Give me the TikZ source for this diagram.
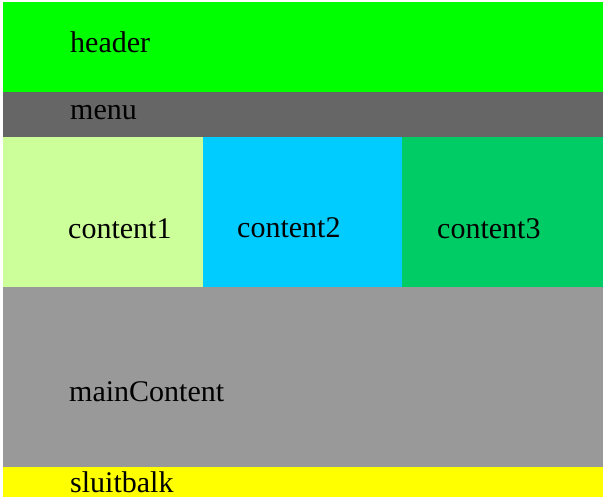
\documentclass[tikz,border=0pt]{standalone}
\usepackage{fontspec}
\setmainfont{Liberation Serif}
\definecolor{headergreen}{HTML}{00FF00}
\definecolor{menugrey}{HTML}{666666}
\definecolor{paleone}{HTML}{CCFF99}
\definecolor{skytwo}{HTML}{00CCFF}
\definecolor{greenthree}{HTML}{00CC66}
\definecolor{maingrey}{HTML}{999999}
\definecolor{footyellow}{HTML}{FFFF00}
\begin{document}
\begin{tikzpicture}[x=1pt, y=-1pt]
    \tikzstyle{block} = [anchor=north west, inner sep=0pt, outer sep=0pt, draw=none]
    \tikzstyle{caption} = [anchor=base west, inner sep=0pt, font=\fontsize{30}{36}\selectfont]
    \useasboundingbox (0, 0) rectangle (607, 501);
    % blocks
    \node[block, fill=headergreen, minimum width=600pt, minimum height=90pt] (header) at (3, 2) {};
    \node[block, fill=menugrey, minimum width=600pt, minimum height=45pt] (menu) at (3, 92) {};
    \node[block, fill=paleone, minimum width=200pt, minimum height=150pt] (content1) at (3, 137) {};
    \node[block, fill=skytwo, minimum width=199pt, minimum height=150pt] (content2) at (203, 137) {};
    \node[block, fill=greenthree, minimum width=201pt, minimum height=150pt] (content3) at (402, 137) {};
    \node[block, fill=maingrey, minimum width=600pt, minimum height=180pt] (mainContent) at (3, 287) {};
    \node[block, fill=footyellow, minimum width=600pt, minimum height=30pt] (sluitbalk) at (3, 467) {};
    % texts
    \node[caption] (headertext) at (70, 52) {header};
    \node[caption] (menutext) at (70, 119) {menu};
    \node[caption] (content1text) at (68, 238) {content1};
    \node[caption] (content2text) at (237, 237) {content2};
    \node[caption] (content3text) at (437, 238) {content3};
    \node[caption] (maintext) at (69, 401) {mainContent};
    \node[caption] (sluittext) at (70, 492) {sluitbalk};
\end{tikzpicture}
\end{document}
